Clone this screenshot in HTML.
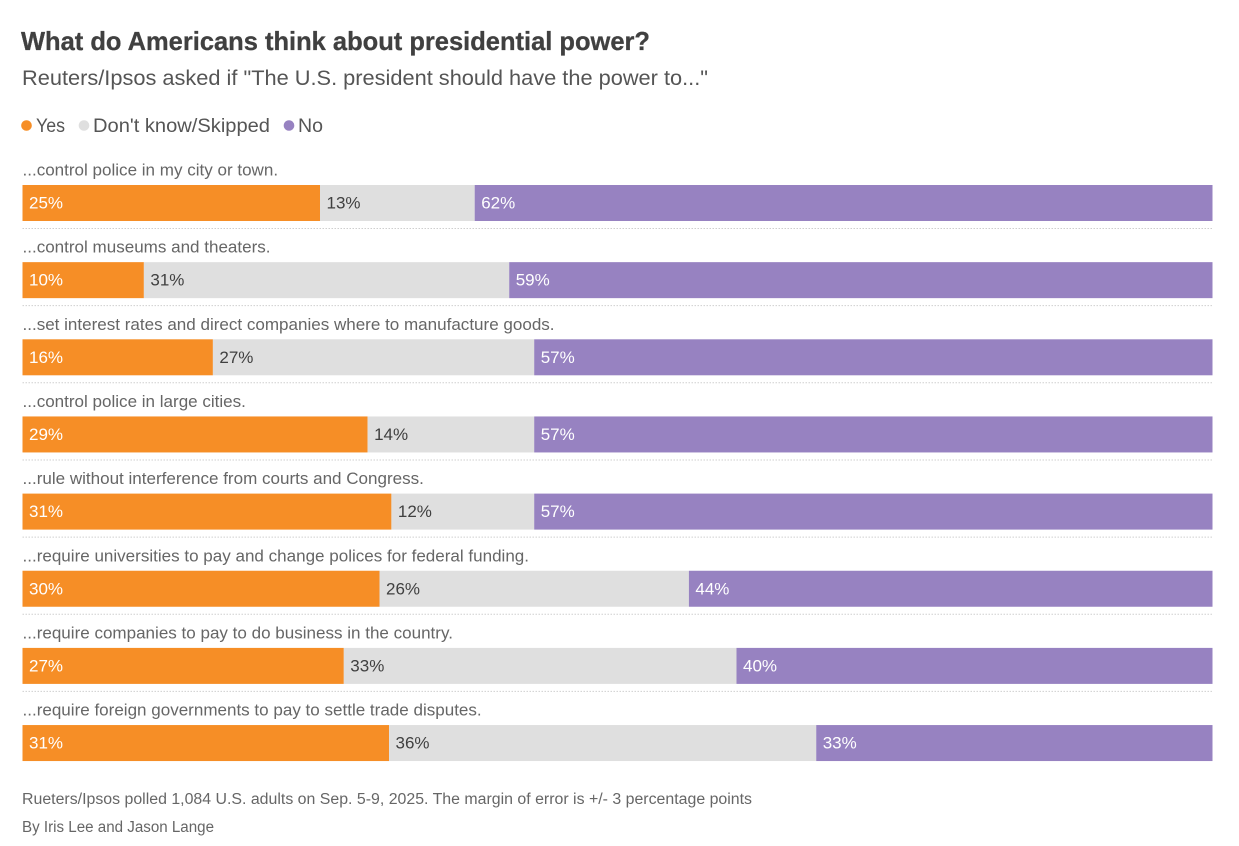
<!DOCTYPE html>
<html lang="en">
<head>
<meta charset="utf-8">
<title>What do Americans think about presidential power?</title>
<style>
html,body{margin:0;padding:0;background:#fff;width:1239px;height:846px;overflow:hidden}
svg{display:block;font-family:"Liberation Sans",sans-serif}
</style>
</head>
<body>
<svg id="chart" width="1239" height="846" viewBox="0 0 1239 846">
  <rect x="0" y="0" width="1239" height="846" fill="#ffffff"/>
  <text x="21" y="50" font-size="26" font-weight="700" fill="#404040" stroke="#404040" stroke-width="0.3" textLength="629" lengthAdjust="spacingAndGlyphs">What do Americans think about presidential power?</text>
  <text x="22" y="85" font-size="21" fill="#555555" textLength="686" lengthAdjust="spacingAndGlyphs">Reuters/Ipsos asked if "The U.S. president should have the power to..."</text>
  <g>
    <circle cx="26.5" cy="125.5" r="5.3" fill="#F68E26"/>
    <text x="36" y="132" font-size="19.5" fill="#555555" textLength="29" lengthAdjust="spacingAndGlyphs">Yes</text>
    <circle cx="84" cy="125.5" r="5.3" fill="#DFDFDF"/>
    <text x="93" y="132" font-size="19.5" fill="#555555" textLength="177" lengthAdjust="spacingAndGlyphs">Don't know/Skipped</text>
    <circle cx="289" cy="125.5" r="5.3" fill="#9782C1"/>
    <text x="298" y="132" font-size="19.5" fill="#555555" textLength="25" lengthAdjust="spacingAndGlyphs">No</text>
  </g>
  <g id="rows"></g>
  <text x="22" y="804" font-size="15.5" fill="#666666" textLength="730" lengthAdjust="spacingAndGlyphs">Rueters/Ipsos polled 1,084 U.S. adults on Sep. 5-9, 2025. The margin of error is +/- 3 percentage points</text>
  <text x="22" y="832" font-size="15.5" fill="#666666" textLength="192" lengthAdjust="spacingAndGlyphs">By Iris Lee and Jason Lange</text>
</svg>
<script>
var questions = [
  "...control police in my city or town.",
  "...control museums and theaters.",
  "...set interest rates and direct companies where to manufacture goods.",
  "...control police in large cities.",
  "...rule without interference from courts and Congress.",
  "...require universities to pay and change polices for federal funding.",
  "...require companies to pay to do business in the country.",
  "...require foreign governments to pay to settle trade disputes."
];
var yesValues = [25, 10.2, 16, 29, 31, 30, 27, 30.8];
var dontKnowValues = [13, 30.7, 27, 14, 12, 26, 33, 35.9];
var noValues = [62, 59.1, 57, 57, 57, 44, 40, 33.3];

var NS = 'http://www.w3.org/2000/svg';
var plotLeft = 22.5, plotRight = 1212.5, firstBarTop = 185, rowPitch = 77.15, barHeight = 36;
function xScale(v) { return plotLeft + v / 100 * (plotRight - plotLeft); }
function rowTop(i) { return firstBarTop + i * rowPitch; }
function svgEl(tag, attrs) {
  var el = document.createElementNS(NS, tag);
  for (var k in attrs) el.setAttribute(k, attrs[k]);
  return el;
}
var rowsGroup = document.getElementById('rows');
var segmentColors = ['#F68E26', '#DFDFDF', '#9782C1'];
var labelColors = ['#ffffff', '#404040', '#ffffff'];
var segmentKeys = ['yes', 'dont-know', 'no'];

questions.forEach(function (question, i) {
  var top = rowTop(i);
  var row = svgEl('g', {});
  
  

  var label = svgEl('text', { x: 22.5, y: top - 9.5, 'font-size': 17.05, fill: '#666666' });
  
  
  label.textContent = question;
  row.appendChild(label);

  var values = [yesValues[i], dontKnowValues[i], noValues[i]];
  var cumulative = 0;
  values.forEach(function (value, s) {
    var x0 = xScale(cumulative);
    var x1 = xScale(cumulative + value);
    var bar = svgEl('rect', { x: x0, y: top, width: x1 - x0, height: barHeight, fill: segmentColors[s] });
    
    
    row.appendChild(bar);

    var valueLabel = svgEl('text', { x: x0 + 6.5, y: top + 23.5, 'font-size': 17, fill: labelColors[s] });
    
    
    valueLabel.textContent = Math.round(value) + '%';
    row.appendChild(valueLabel);
    cumulative += value;
  });

  var rule = svgEl('line', { x1: plotLeft, x2: plotRight, y1: top + 43.5, y2: top + 43.5, stroke: '#cfcfcf', 'stroke-width': 1, 'stroke-dasharray': '1.5 1.5' });
  
  
  if (i < questions.length - 1) row.appendChild(rule);

  rowsGroup.appendChild(row);
});
</script>
</body>
</html>
